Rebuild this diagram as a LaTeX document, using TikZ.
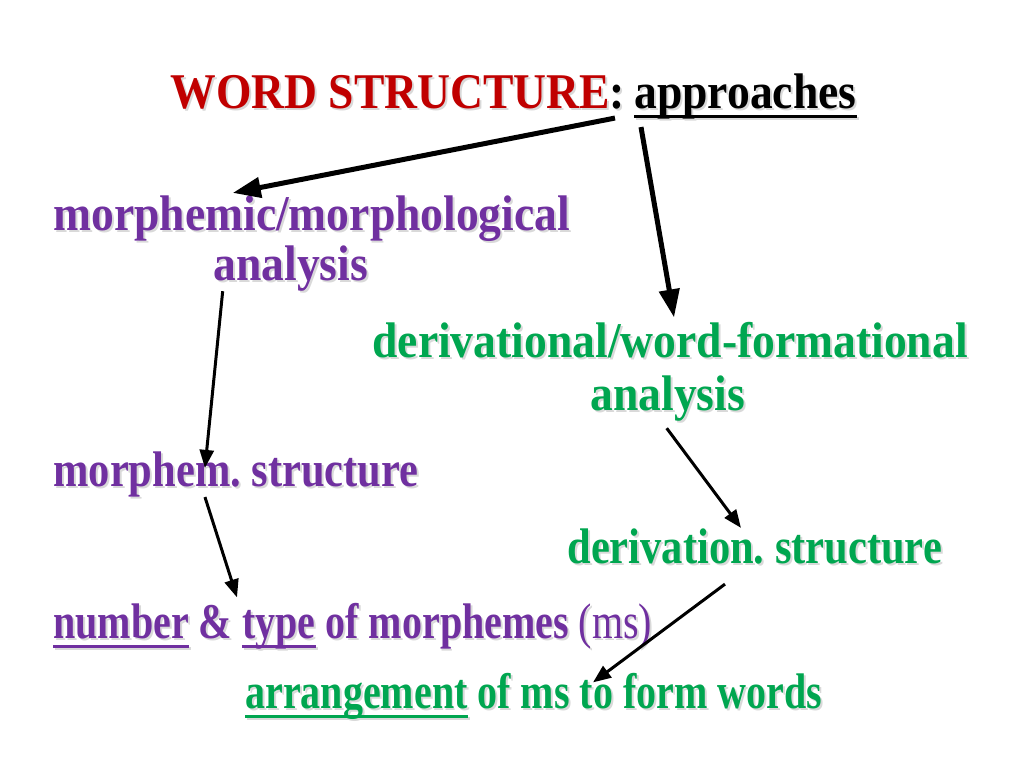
\documentclass[tikz,border=0pt]{standalone}
\usepackage{fontspec}
\setmainfont{Liberation Serif}[FakeStretch=0.912]
\newfontfamily\midserif{Liberation Serif}[FakeStretch=0.85]
\newfontfamily\narrowserif{Liberation Serif}[FakeStretch=0.8]
\usetikzlibrary{positioning,arrows.meta,calc}

\definecolor{titlered}{RGB}{192,0,0}
\definecolor{morphpurple}{RGB}{112,48,160}
\definecolor{derivgreen}{RGB}{0,166,80}

% thick underline in the current colour
\newsavebox{\ulbox}
\newcommand{\ulbar}[1]{\sbox{\ulbox}{#1}\leavevmode\rlap{\rule[-5pt]{\wd\ulbox}{1.4pt}}\usebox{\ulbox}}
% grey drop shadow behind a text
\newif\ifshadowpass
\newcommand{\tcol}[2]{\ifshadowpass#2\else\textcolor{#1}{#2}\fi}
\newcommand{\shad}[1]{\leavevmode\rlap{\shadowpasstrue\kern1pt\raisebox{-1pt}{\color{black!15}#1}}#1}

\begin{document}
\frenchspacing
\begin{tikzpicture}[
  x=0.5pt, y=-0.5pt,
  font=\fontsize{25}{25}\selectfont\bfseries,
  txt/.style={inner sep=0pt, anchor=base west},
  morphtxt/.style={txt, text=morphpurple},
  derivtxt/.style={txt, text=derivgreen},
  midfont/.style={font=\fontsize{25}{25}\midserif\bfseries},
  narrowfont/.style={font=\fontsize{25}{25}\narrowserif\bfseries},
  bigarr/.style={-{Triangle[length=14pt,width=10pt]}, line width=2.5pt},
  arr/.style={-{Triangle[length=9pt,width=7pt]}, line width=1.5pt},
]
\useasboundingbox (0,0) rectangle (1024,767);

% title
\node[txt] (title) at (170,108) {\shad{\tcol{titlered}{WORD STRUCTURE}:}};
\node[txt] (apr) at (634,108) {\shad{\ulbar{approaches}}};

% morphemic branch
\node[morphtxt] (morph1) at (53,230) {\shad{morphemic/morphological}};
\node[morphtxt] (morph2) at (213,280) {\shad{analysis}};
\node[morphtxt, midfont] (mstruct) at (53,486) {\shad{morphem. structure}};
\node[morphtxt, narrowfont] (numb) at (53,638)
  {\shad{\ulbar{number} \& \ulbar{type} of morphemes \mdseries(ms)}};

% derivational branch
\node[derivtxt] (deriv1) at (372,357) {\shad{derivational/word-formational}};
\node[derivtxt] (deriv2) at (590,410) {\shad{analysis}};
\node[derivtxt, midfont] (dstruct) at (567,563) {\shad{derivation. structure}};
\node[derivtxt, narrowfont] (arrange) at (245,708)
  {\shad{\ulbar{arrangement} of ms to form words}};

% connectors
\draw[bigarr] ($(apr.south west)+(-19,-3)$) -- ($(morph1.north)+(-79,-2)$);
\draw[bigarr] ($(apr.south west)+(7,6)$) -- ($(deriv1.north)+(4,-4)$);
\draw[arr] ($(morph2.south)+(-68,-2)$) -- ($(mstruct.north)+(-31,17)$);
\draw[arr] ($(mstruct.south)+(-31,-2)$) -- ($(numb.north west)+(184,-5)$);
\draw[arr] ($(deriv2.south)+(-1,5)$) -- ($(dstruct.north west)+(174,0)$);
\draw[arr] ($(dstruct.south west)+(158,18)$) -- ($(arrange.north west)+(348,10)$);
\end{tikzpicture}
\end{document}
